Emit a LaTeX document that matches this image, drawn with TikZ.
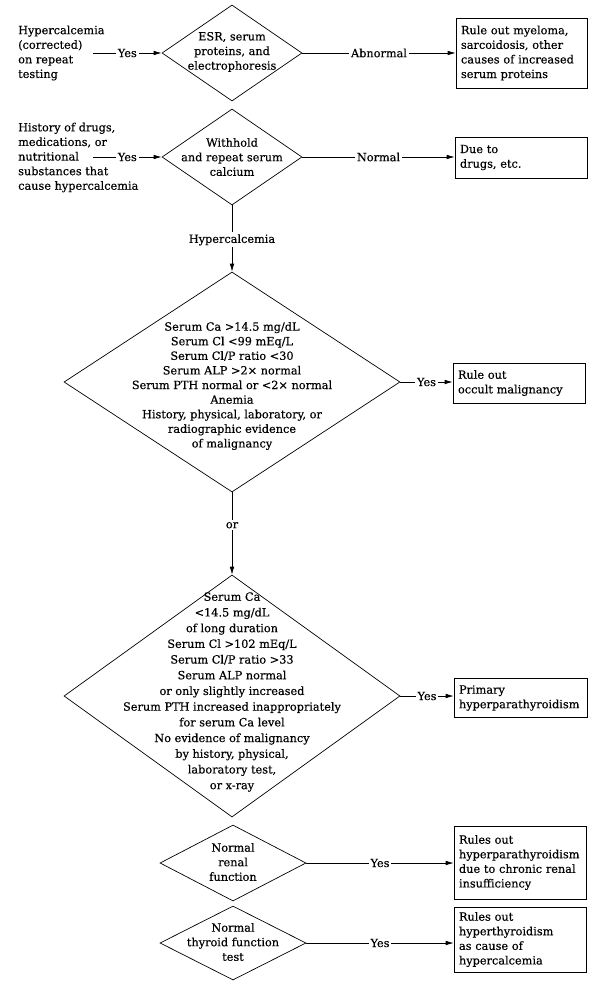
\documentclass[tikz,border=0pt]{standalone}
\usepackage{fontspec}
\setmainfont{DejaVu Serif}[FakeBold=0.35]
\usetikzlibrary{shapes.geometric,arrows.meta}
\begin{document}
\begin{tikzpicture}[x=1pt,y=-1pt,
  font=\fontsize{11.3}{14.6}\selectfont,
  dia/.style={draw, shape=diamond, inner sep=0pt, line width=0.7pt},
  dtext/.style={align=center, inner sep=0pt},
  box/.style={draw, rectangle, line width=0.7pt, align=left, inner xsep=5pt, inner ysep=0pt},
  side/.style={align=left, inner sep=0pt, anchor=west},
  arr/.style={-{Latex[length=8pt,width=4.6pt]}, line width=0.7pt},
  lbl/.style={fill=white, inner sep=2pt}]
\useasboundingbox (0,0) rectangle (594,987);
\fill[white] (0,0) rectangle (594,987);

% left side texts
\node[side] (t1) at (18,53) {Hypercalcemia\\(corrected)\\on repeat\\testing};
\node[side] (t2) at (18,157.5) {History of drugs,\\medications, or\\nutritional\\substances that\\cause hypercalcemia};
\coordinate (c1) at (93,53);
\coordinate (c2) at (93,157);

% diamonds
\node[dia, minimum width=140pt, minimum height=96pt] (d1) at (232,53) {};
\node[dtext] (d1t) at (232,52) {ESR, serum\\proteins, and\\electrophoresis};
\node[dia, minimum width=140pt, minimum height=96pt] (d2) at (232,157) {};
\node[dtext] (d2t) at (232,157) {Withhold\\and repeat serum\\calcium};
\node[dia, minimum width=336pt, minimum height=220pt] (d3) at (232,382) {};
\node[dtext] (d3t) at (232,386) {Serum Ca >14.5 mg/dL\\Serum Cl <99 mEq/L\\Serum Cl/P ratio <30\\Serum ALP >2× normal\\Serum PTH normal or <2× normal\\Anemia\\History, physical, laboratory, or\\radiographic evidence\\of malignancy};
\node[dia, minimum width=336pt, minimum height=242pt] (d4) at (232,696) {};
\node[dtext, font=\fontsize{11.3}{15.7}\selectfont] (d4t) at (232,692) {Serum Ca\\<14.5 mg/dL\\of long duration\\Serum Cl >102 mEq/L\\Serum Cl/P ratio >33\\Serum ALP normal\\or only slightly increased\\Serum PTH increased inappropriately\\for serum Ca level\\No evidence of malignancy\\by history, physical,\\laboratory test,\\or x-ray};
\node[dia, minimum width=146pt, minimum height=76pt] (d5) at (233,863) {};
\node[dtext] (d5t) at (233,862) {Normal\\renal\\function};
\node[dia, minimum width=146pt, minimum height=74pt] (d6) at (233,943) {};
\node[dtext] (d6t) at (233,942) {Normal\\thyroid function\\test};

% boxes
\node[box, text width=121pt, minimum height=70pt] (b1) at (521.5,53) {Rule out myeloma,\\sarcoidosis, other\\causes of increased\\serum proteins};
\node[box, text width=122pt, minimum height=41pt] (b2) at (521,157.5) {Due to\\drugs, etc.};
\node[box, text width=122pt, minimum height=40pt] (b3) at (519,383) {Rule out\\occult malignancy};
\node[box, text width=123pt, minimum height=39pt] (b4) at (520.5,698) {Primary\\hyperparathyroidism};
\node[box, text width=122pt, minimum height=73pt] (b5) at (520,862.5) {Rules out\\hyperparathyroidism\\due to chronic renal\\insufficiency};
\node[box, text width=122pt, minimum height=65pt] (b6) at (520,939.5) {Rules out\\hyperthyroidism\\as cause of\\hypercalcemia};

% connectors
\draw[arr] (c1) -- node[lbl] {Yes} (d1.west);
\draw[arr] (c2) -- node[lbl] {Yes} (d2.west);
\draw[arr] (d1.east) -- node[lbl] {Abnormal} (d1.east -| b1.west);
\draw[arr] (d2.east) -- node[lbl] {Normal} (d2.east -| b2.west);
\draw[arr] (d2.south) -- node[lbl, pos=0.52] {Hypercalcemia} (d3.north);
\draw[arr] (d3.east) -- node[lbl] {Yes} (d3.east -| b3.west);
\draw[arr] (d3.south) -- node[lbl, pos=0.40] {or} (d4.north);
\draw[arr] (d4.east) -- node[lbl] {Yes} (d4.east -| b4.west);
\draw[arr] (d5.east) -- node[lbl] {Yes} (d5.east -| b5.west);
\draw[arr] (d6.east) -- node[lbl] {Yes} (d6.east -| b6.west);
\end{tikzpicture}
\end{document}
